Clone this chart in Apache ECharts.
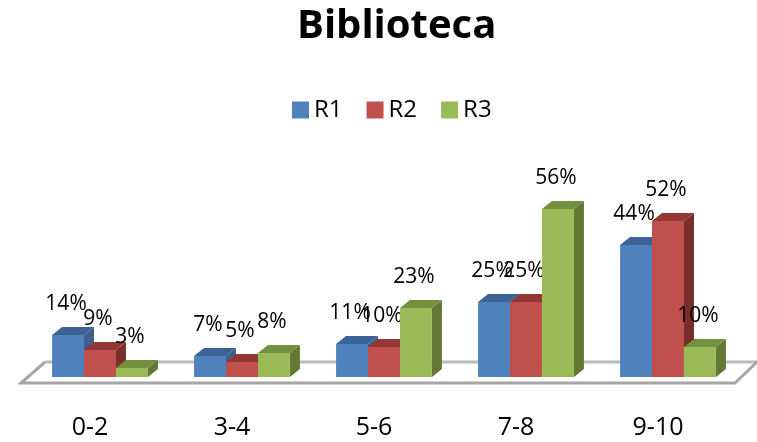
<!DOCTYPE html>
<html>
<head>
<meta charset="utf-8">
<script src="https://cdn.jsdelivr.net/npm/echarts@6/dist/echarts.min.js"></script>
<style>
html, body { margin: 0; padding: 0; background: #fff; }
#chart { width: 757px; height: 442px; }
</style>
</head>
<body>
<div id="chart"></div>
<script>
const categories = ['0-2', '3-4', '5-6', '7-8', '9-10']
const seriesNames = ['R1', 'R2', 'R3']
const r1 = [14, 7, 11, 25, 44]
const r2 = [9, 5, 10, 25, 52]
const r3 = [3, 8, 23, 56, 10]

// front / top / side colours of each series
const faces = [
    ['#4f81bd', '#3b6396', '#3c5f8b'],
    ['#c0504d', '#923734', '#7a2e2c'],
    ['#9bbb59', '#72903d', '#627834'],
]
const depthX = 10
const depthY = 8
const gridLeft = 19
const gridRight = 28
const gridBottom = 65
const font = '"Open Sans"'

const chart = echarts.init(document.getElementById('chart'), null, { renderer: 'canvas' })

function bar3d(s) {
    return function (params, api) {
        let cat = api.value(0)
        let val = api.value(1)
        let base = api.coord([cat, 0])
        let top = api.coord([cat, val])
        let band = api.size([1, 0])[0]
        let w = band * 0.225
        let x0 = base[0] + 10 - 1.5 * w + s * w
        let x1 = x0 + w
        let y0 = base[1]
        let y1 = top[1]
        let c = faces[s]
        return {
            type: 'group',
            children: [
                {
                    type: 'polygon',
                    shape: { points: [[x1, y1], [x1 + depthX, y1 - depthY], [x1 + depthX, y0 - depthY], [x1, y0]] },
                    style: { fill: c[2] },
                },
                {
                    type: 'polygon',
                    shape: { points: [[x0, y1], [x0 + depthX, y1 - depthY], [x1 + depthX, y1 - depthY], [x1, y1]] },
                    style: { fill: c[1] },
                },
                {
                    type: 'rect',
                    shape: { x: x0, y: y1, width: w, height: y0 - y1 },
                    style: { fill: c[0] },
                },
                {
                    type: 'text',
                    x: (x0 + x1) / 2 - 2,
                    y: y1 - 31,
                    style: {
                        text: val + '%',
                        fill: '#000',
                        font: '21px ' + font,
                        align: 'center',
                        verticalAlign: 'middle',
                    },
                },
            ],
        }
    }
}

const values = [r1, r2, r3]
const series = seriesNames.map((name, s) => ({
    name: name,
    type: 'custom',
    renderItem: bar3d(s),
    itemStyle: { color: faces[s][0] },
    data: values[s].map((v, i) => [i, v]),
    z: 2,
    animation: false,
}))

const W = 757, H = 442
const floorY = H - gridBottom
chart.setOption({
    animation: false,
    title: {
        text: 'Biblioteca',
        left: 292,
        top: 2,
        textStyle: { fontFamily: font, fontWeight: 'bold', fontSize: 40, color: '#000' },
    },
    legend: {
        data: seriesNames,
        left: 287,
        top: 93,
        itemWidth: 17,
        itemHeight: 17,
        itemGap: 24,
        icon: 'rect',
        textStyle: { fontFamily: font, fontSize: 24, color: '#000' },
    },
    grid: { left: gridLeft, right: gridRight, top: 197, bottom: gridBottom },
    xAxis: {
        type: 'category',
        data: categories,
        axisLine: { show: false },
        axisTick: { show: false },
        axisLabel: { margin: 38, fontFamily: font, fontSize: 25, color: '#000' },
    },
    yAxis: {
        type: 'value',
        min: 0,
        max: 60,
        show: false,
    },
    graphic: [
        {
            type: 'polyline',
            z: 0,
            shape: { points: [[gridLeft + 26, floorY - 15], [W, floorY - 15]] },
            style: { stroke: '#bcbcbc', lineWidth: 3, fill: null },
        },
        {
            type: 'polyline',
            z: 0,
            shape: { points: [[gridLeft + 26, floorY - 15], [gridLeft + 2, floorY + 6], [W - 22, floorY + 6], [W, floorY - 15]] },
            style: { stroke: '#a6a6a6', lineWidth: 3, fill: null },
        },
    ],
    series: series,
})
</script>
</body>
</html>
